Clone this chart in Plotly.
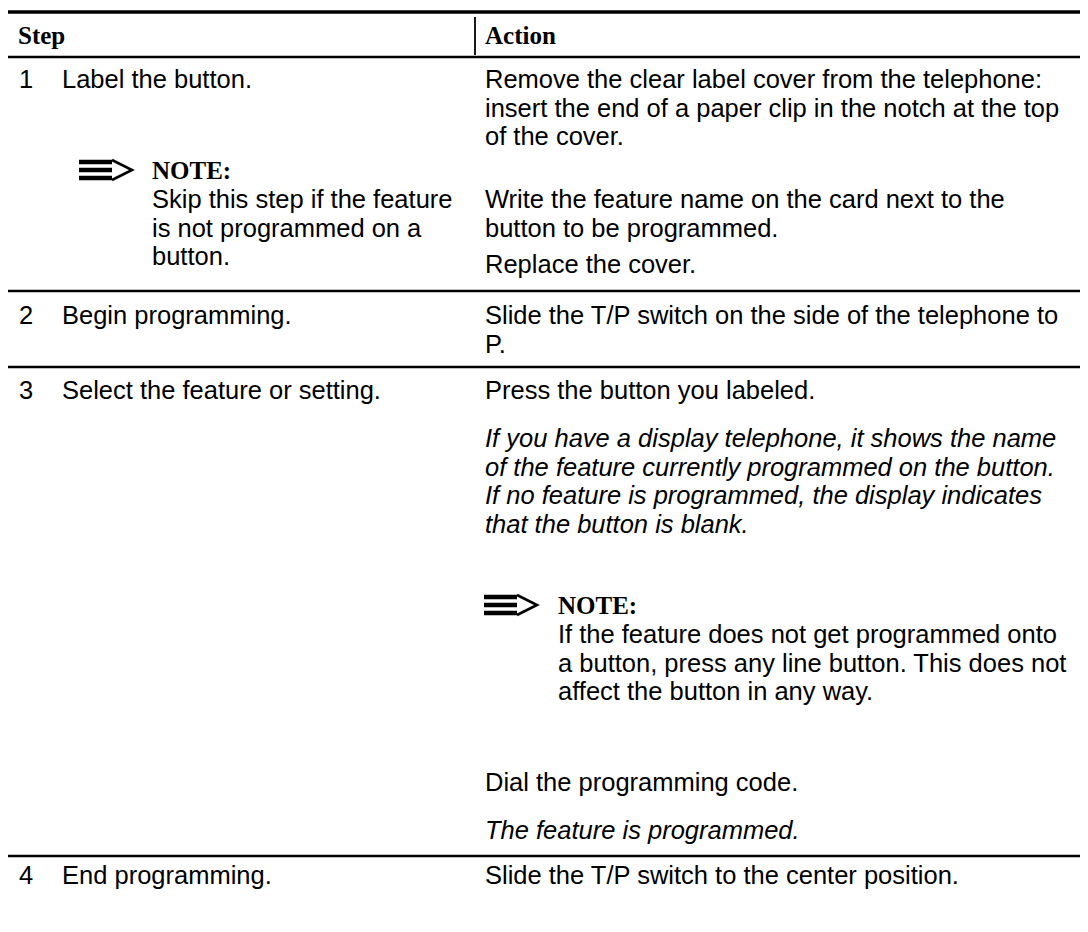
import plotly.graph_objects as go

# ---------------- content ----------------
header = ["Step", "Action"]
step_numbers = ["1", "2", "3", "4"]
step_titles = ["Label the button.", "Begin programming.",
               "Select the feature or setting.", "End programming."]
note_label = "NOTE:"
step1_note = ["Skip this step if the feature", "is not programmed on a", "button."]
step1_remove = ["Remove the clear label cover from the telephone:",
                "insert the end of a paper clip in the notch at the top",
                "of the cover."]
step1_write = ["Write the feature name on the card next to the",
               "button to be programmed."]
step1_replace = ["Replace the cover."]
step2_actions = ["Slide the T/P switch on the side of the telephone to", "P."]
step3_press = ["Press the button you labeled."]
step3_result = ["If you have a display telephone, it shows the name",
                "of the feature currently programmed on the button.",
                "If no feature is programmed, the display indicates",
                "that the button is blank."]
step3_note = ["If the feature does not get programmed onto",
              "a button, press any line button. This does not",
              "affect the button in any way."]
step3_dial = ["Dial the programming code."]
step3_done = ["The feature is programmed."]
step4_actions = ["Slide the T/P switch to the center position."]

# ---------------- layout constants (pixels of the page) ----------------
W, H = 1088, 932
OFF = 8                      # default body margin of the html page
SANS = "Liberation Sans, Arial, Helvetica, sans-serif"
SERIF = "Liberation Serif, Times New Roman, serif"
FS = 25.5                    # body text size
FSB = 25                     # bold serif headings
LH = 28.5                    # line pitch
X_NUM, X_TITLE, X_ACT, X_SPLIT = 18, 61, 484, 475

annotations = []
shapes = []


def text(x, y, s, font=SANS, size=FS, italic=False, bold=False):
    if italic:
        s = "<i>" + s + "</i>"
    if bold:
        s = "<b>" + s + "</b>"
    annotations.append(dict(x=x, y=y, xref="x", yref="y", text=s, showarrow=False,
                            xanchor="left", yanchor="middle", borderpad=0,
                            font=dict(family=font, size=size, color="#000000")))


def hline(y, w, x0=7, x1=W + OFF):
    shapes.append(dict(type="line", xref="x", yref="y", x0=x0, x1=x1, y0=y, y1=y,
                       line=dict(color="#000000", width=w)))


def note_icon(x, y):
    for dy in (-8, 0, 8):
        shapes.append(dict(type="rect", xref="x", yref="y", x0=x, x1=x + 33,
                           y0=y + dy - 2.2, y1=y + dy + 2.2,
                           fillcolor="#000000", line=dict(width=0)))
    shapes.append(dict(type="path", xref="x", yref="y",
                       path=f"M {x+33},{y-10} L {x+53},{y} L {x+33},{y+10}",
                       line=dict(color="#000000", width=2.6)))


def block(x, y0, lines, italic=False):
    for i, s in enumerate(lines):
        text(x, y0 + i * LH, s, italic=italic)


# rules
hline(12, 3.5)
hline(57, 2.4)
shapes.append(dict(type="line", xref="x", yref="y", x0=X_SPLIT, x1=X_SPLIT, y0=17, y1=55,
                   line=dict(color="#000000", width=1.8)))
for y in (291, 367, 856):
    hline(y, 2.4)

# header
text(X_NUM - 1, 35, header[0], font=SERIF, size=FSB, bold=True)
text(X_ACT, 35, header[1], font=SERIF, size=FSB, bold=True)

# step column
row_y = [79, 315, 390, 875]
for n, t, y in zip(step_numbers, step_titles, row_y):
    text(X_NUM, y, n)
    text(X_TITLE, y, t)

# step 1
note_icon(79, 170)
text(151, 170, note_label, font=SERIF, size=FSB, bold=True)
block(151, 199, step1_note)
block(X_ACT, 79, step1_remove)
block(X_ACT, 199, step1_write)
block(X_ACT, 264, step1_replace)

# step 2
block(X_ACT, 315, step2_actions)

# step 3
block(X_ACT, 390, step3_press)
block(X_ACT, 438, step3_result, italic=True)
note_icon(X_ACT, 605)
text(X_ACT + 73, 605, note_label, font=SERIF, size=FSB, bold=True)
block(X_ACT + 73, 634, step3_note)
block(X_ACT, 782, step3_dial)
block(X_ACT, 830, step3_done, italic=True)

# step 4
block(X_ACT, 875, step4_actions)

fig = go.Figure()
fig.update_layout(
    width=W, height=H,
    margin=dict(l=0, r=0, t=0, b=0),
    paper_bgcolor="#ffffff", plot_bgcolor="#ffffff",
    xaxis=dict(range=[OFF, W + OFF], visible=False, fixedrange=True),
    yaxis=dict(range=[H + OFF, OFF], visible=False, fixedrange=True),
    annotations=annotations, shapes=shapes, showlegend=False,
)
fig.write_html("out.html", config={"displayModeBar": False})
